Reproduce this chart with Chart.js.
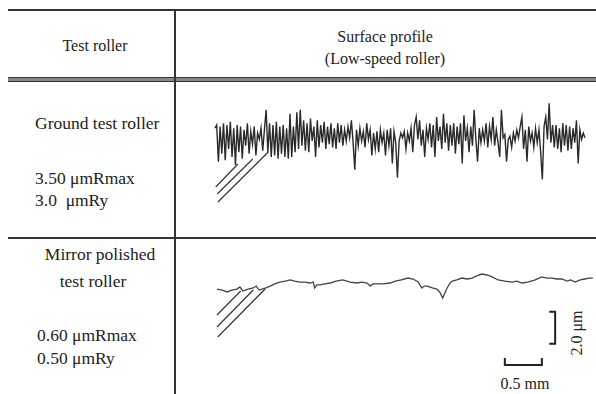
<!DOCTYPE html>
<html>
<head>
<meta charset="utf-8">
<script src="https://cdn.jsdelivr.net/npm/chart.js@4"></script>
<style>
  html, body { margin: 0; padding: 0; background: #fff; }
  #page { position: relative; width: 596px; height: 394px; overflow: hidden; font-family: "Liberation Serif", "Times New Roman", serif; color: #222; }
  .rule { position: absolute; background: #333; }
  .txt { position: absolute; font-size: 16px; white-space: pre; line-height: 1; }
  .big { font-size: 17.5px; }
  .c { transform: translate(-50%, -50%); }
  .l { transform: translateY(-50%); }
  canvas { position: absolute; }
</style>
</head>
<body>
<div id="page">
  <!-- table rules -->
  <div class="rule" style="left:8px; top:9px; width:588px; height:2px;"></div>
  <div class="rule" style="left:8px; top:77px; width:588px; height:5px; background:#888; border-top:1px solid #333; border-bottom:1px solid #333; box-sizing:border-box;"></div>
  <div class="rule" style="left:8px; top:237px; width:588px; height:1.5px;"></div>
  <div class="rule" style="left:174px; top:10px; width:1.5px; height:384px;"></div>

  <!-- header -->
  <div class="txt c" style="left:95px; top:46px;">Test roller</div>
  <div class="txt c" style="left:385px; top:37px;">Surface profile</div>
  <div class="txt c" style="left:385px; top:59px;">(Low-speed roller)</div>

  <!-- row labels -->
  <div class="txt big l" style="left:35px; top:124px;">Ground test roller</div>
  <div class="txt big l" style="left:35px; top:179px;">3.50 μmRmax</div>
  <div class="txt big l" style="left:35px; top:201px;">3.0  μmRy</div>
  <div class="txt big c" style="left:100px; top:255px;">Mirror polished</div>
  <div class="txt big c" style="left:93px; top:282px;">test roller</div>
  <div class="txt big l" style="left:37px; top:336px;">0.60 μmRmax</div>
  <div class="txt big l" style="left:37px; top:359px;">0.50 μmRy</div>

  <!-- scale labels -->
  <div class="txt c" style="left:525px; top:384px;">0.5 mm</div>
  <div class="txt c" style="left:577px; top:333px; transform: translate(-50%, -50%) rotate(-90deg);">2.0 μm</div>

  <canvas id="groundChart" width="391" height="110" style="left:205px; top:95px;"></canvas>
  <canvas id="mirrorChart" width="391" height="132" style="left:205px; top:262px;"></canvas>
</div>

<script>
// ground roller profile, height in µm, sampled evenly over 5.0 mm
const groundLength = 5.0;
const groundProfile = [
  0.3, 0.5, -1.8, 0.4, -1.3, 0.6, -1.7, 0.5, -1.0, 0.7,
  -1.5, 0.3, -2.0, 0.5, -1.2, 0.4, -1.6, 0.2, -0.8, 0.6,
  -1.3, 0.1, -0.7, 0.4, -1.4, 0.0, -0.4, 0.3, -1.1, 0.2,
  1.45, -1.2, 0.6, -1.5, 0.5, -1.4, 0.7, -1.6, 0.4, -1.3,
  0.5, -1.5, 0.3, -1.6, 1.2, -1.5, 0.4, -1.2, 1.3, -1.0,
  1.45, -0.8, 0.8, -1.1, 0.6, -1.2, 0.9, -0.5, 0.4, -1.5,
  0.8, -0.9, 0.5, -0.6, 0.7, -1.0, 0.4, -0.7, 0.6, -0.9,
  0.3, -1.0, 0.6, -0.6, 0.5, -0.8, 0.2, -0.5, 0.4, -0.3,
  0.8, -0.6, -2.3, 0.2, -0.8, 0.3, -0.5, 0.1, -0.9, 0.6,
  -0.4, 0.2, -1.4, 0.0, -1.0, 0.1, -1.2, 0.2, -0.6, 0.0,
  -1.4, 0.2, -0.8, 0.3, -1.9, 0.1, -0.6, -2.8, -0.5, 0.0,
  -0.3, 0.1, -1.0, 0.0, -0.5, 0.3, -1.2, 0.5, 1.0, -0.4,
  0.8, -0.8, 0.2, -1.5, 0.3, -0.4, 0.6, -0.9, 0.5, -1.5,
  1.0, -0.5, 0.4, -1.0, 1.2, -0.6, 0.6, -1.1, 0.5, -0.8,
  0.6, -1.3, 0.4, -0.7, 0.6, -1.9, 1.1, -0.5, 0.3, -1.2,
  0.4, -0.8, 1.45, -0.4, -1.8, 0.3, -0.6, 0.2, -0.5, 0.6,
  -0.9, 0.4, -0.4, 1.0, -0.8, 0.2, -0.6, -1.5, 1.45, -0.3,
  -0.1, -1.8, -0.4, -0.2, -0.9, 0.0, -0.5, 0.2, -0.3, 0.4,
  1.0, -1.0, 0.2, -1.8, 0.4, -0.5, 0.0, -0.9, 0.3, -0.6,
  0.2, -1.2, -2.9, 0.4, 1.0, -0.4, 1.85, -0.6, 0.5, -0.9,
  0.5, -1.0, 0.3, -1.2, 0.6, -0.8, 0.5, -1.1, 0.4, -1.0,
  0.3, -0.6, 0.8, -1.9, 0.2, -0.4, 0.0, -0.3
];

// mirror polished roller profile: position (mm), height (µm)
const mirrorX = [
  0, 0.07, 0.14, 0.20, 0.27, 0.31, 0.35, 0.42, 0.49, 0.53, 0.57, 0.61, 0.66, 0.72, 0.78,
  0.85, 0.92, 0.99, 1.05, 1.12, 1.19, 1.26, 1.30, 1.32, 1.35, 1.39, 1.46, 1.53, 1.61, 1.70,
  1.80, 1.89, 1.96, 2.03, 2.07, 2.11, 2.16, 2.24, 2.34, 2.41, 2.49, 2.58, 2.65, 2.72, 2.74,
  2.77, 2.80, 2.84, 2.91, 2.97, 3.01, 3.05, 3.08, 3.11, 3.15, 3.18, 3.24, 3.31, 3.38, 3.45,
  3.51, 3.58, 3.65, 3.72, 3.80, 3.89, 3.99, 4.05, 4.12, 4.20, 4.30, 4.39, 4.46, 4.53, 4.59,
  4.66, 4.73, 4.78, 4.84, 4.91, 4.97, 5.03, 5.08
];
const mirrorY = [
  -0.38, -0.44, -0.56, -0.44, -0.38, -0.25, -0.5, -0.38, -0.31, -0.19, -0.44, -0.38, -0.31, -0.19, -0.06,
  0.06, 0.12, 0.19, 0.12, 0.06, 0.06, 0, 0.06, -0.31, -0.12, -0.12, -0.06, 0, 0.12, 0.19,
  0.06, 0, 0.06, 0, -0.19, -0.06, -0.06, -0.06, 0, 0.12, 0.19, 0.31, 0.25, 0.06, -0.12,
  -0.31, -0.19, -0.19, -0.31, -0.38, -0.56, -0.94, -0.62, -0.31, 0, 0.12, 0.19, 0.31, 0.25, 0.31,
  0.44, 0.56, 0.5, 0.38, 0.19, 0.12, 0.06, 0.12, 0, 0.06, 0.19, 0.38, 0.31, 0.31, 0.25,
  0.25, 0.12, 0.19, 0.06, 0.19, 0.25, 0.31, 0.31
];

// recorder hatch marks at the start of each trace: [x0, y0, x1, y1] in mm / µm
const groundHatch = [
  [0.01, -3.375, 0.31, -1.94],
  [0.03, -3.81, 0.51, -1.625],
  [0.04, -4.31, 0.72, -1.19]
];
const mirrorHatch = [
  [0.0, -2.0, 0.32, -0.5],
  [0.0, -2.75, 0.49, -0.44],
  [0.01, -3.375, 0.65, -0.375]
];

// scale bars
const barLengthMm = 0.5;
const barHeightUm = 2.0;

function hatchSets(list) {
  return list.map(h => ({
    data: [{ x: h[0], y: h[1] }, { x: h[2], y: h[3] }],
    borderColor: "#333",
    borderWidth: 1.2
  }));
}

function baseOptions(xmin, xmax, ymin, ymax) {
  return {
    responsive: false,
    animation: false,
    layout: { padding: 0 },
    elements: { point: { radius: 0 }, line: { tension: 0 } },
    plugins: { legend: { display: false }, tooltip: { enabled: false } },
    scales: {
      x: { type: "linear", display: false, min: xmin, max: xmax },
      y: { type: "linear", display: false, min: ymin, max: ymax }
    }
  };
}

const groundPoints = groundProfile.map((v, i) => ({
  x: i * groundLength / (groundProfile.length - 1),
  y: v
}));

new Chart(document.getElementById("groundChart"), {
  type: "line",
  data: {
    datasets: [
      { data: groundPoints, borderColor: "#2a2a2a", borderWidth: 1.4 },
      ...hatchSets(groundHatch)
    ]
  },
  options: baseOptions(-0.135, 5.149, -4.5, 2.375)
});

const mirrorPoints = mirrorX.map((x, i) => ({ x: x, y: mirrorY[i] }));

// scale bar positions (mm, µm) in the lower chart
const hBarX = 3.89, hBarY = -5.125, hTick = 0.44;
const vBarX = 4.57, vBarTop = -1.8, vTick = 0.08;

new Chart(document.getElementById("mirrorChart"), {
  type: "line",
  data: {
    datasets: [
      { data: mirrorPoints, borderColor: "#444", borderWidth: 1.3 },
      ...hatchSets(mirrorHatch),
      {
        data: [
          { x: hBarX, y: hBarY + hTick }, { x: hBarX, y: hBarY },
          { x: hBarX + barLengthMm, y: hBarY }, { x: hBarX + barLengthMm, y: hBarY + hTick }
        ],
        borderColor: "#222", borderWidth: 2
      },
      {
        data: [
          { x: vBarX - vTick, y: vBarTop }, { x: vBarX, y: vBarTop },
          { x: vBarX, y: vBarTop - barHeightUm }, { x: vBarX - vTick, y: vBarTop - barHeightUm }
        ],
        borderColor: "#222", borderWidth: 2
      }
    ]
  },
  options: baseOptions(-0.162, 5.122, -6.9375, 1.3125)
});
</script>
</body>
</html>
